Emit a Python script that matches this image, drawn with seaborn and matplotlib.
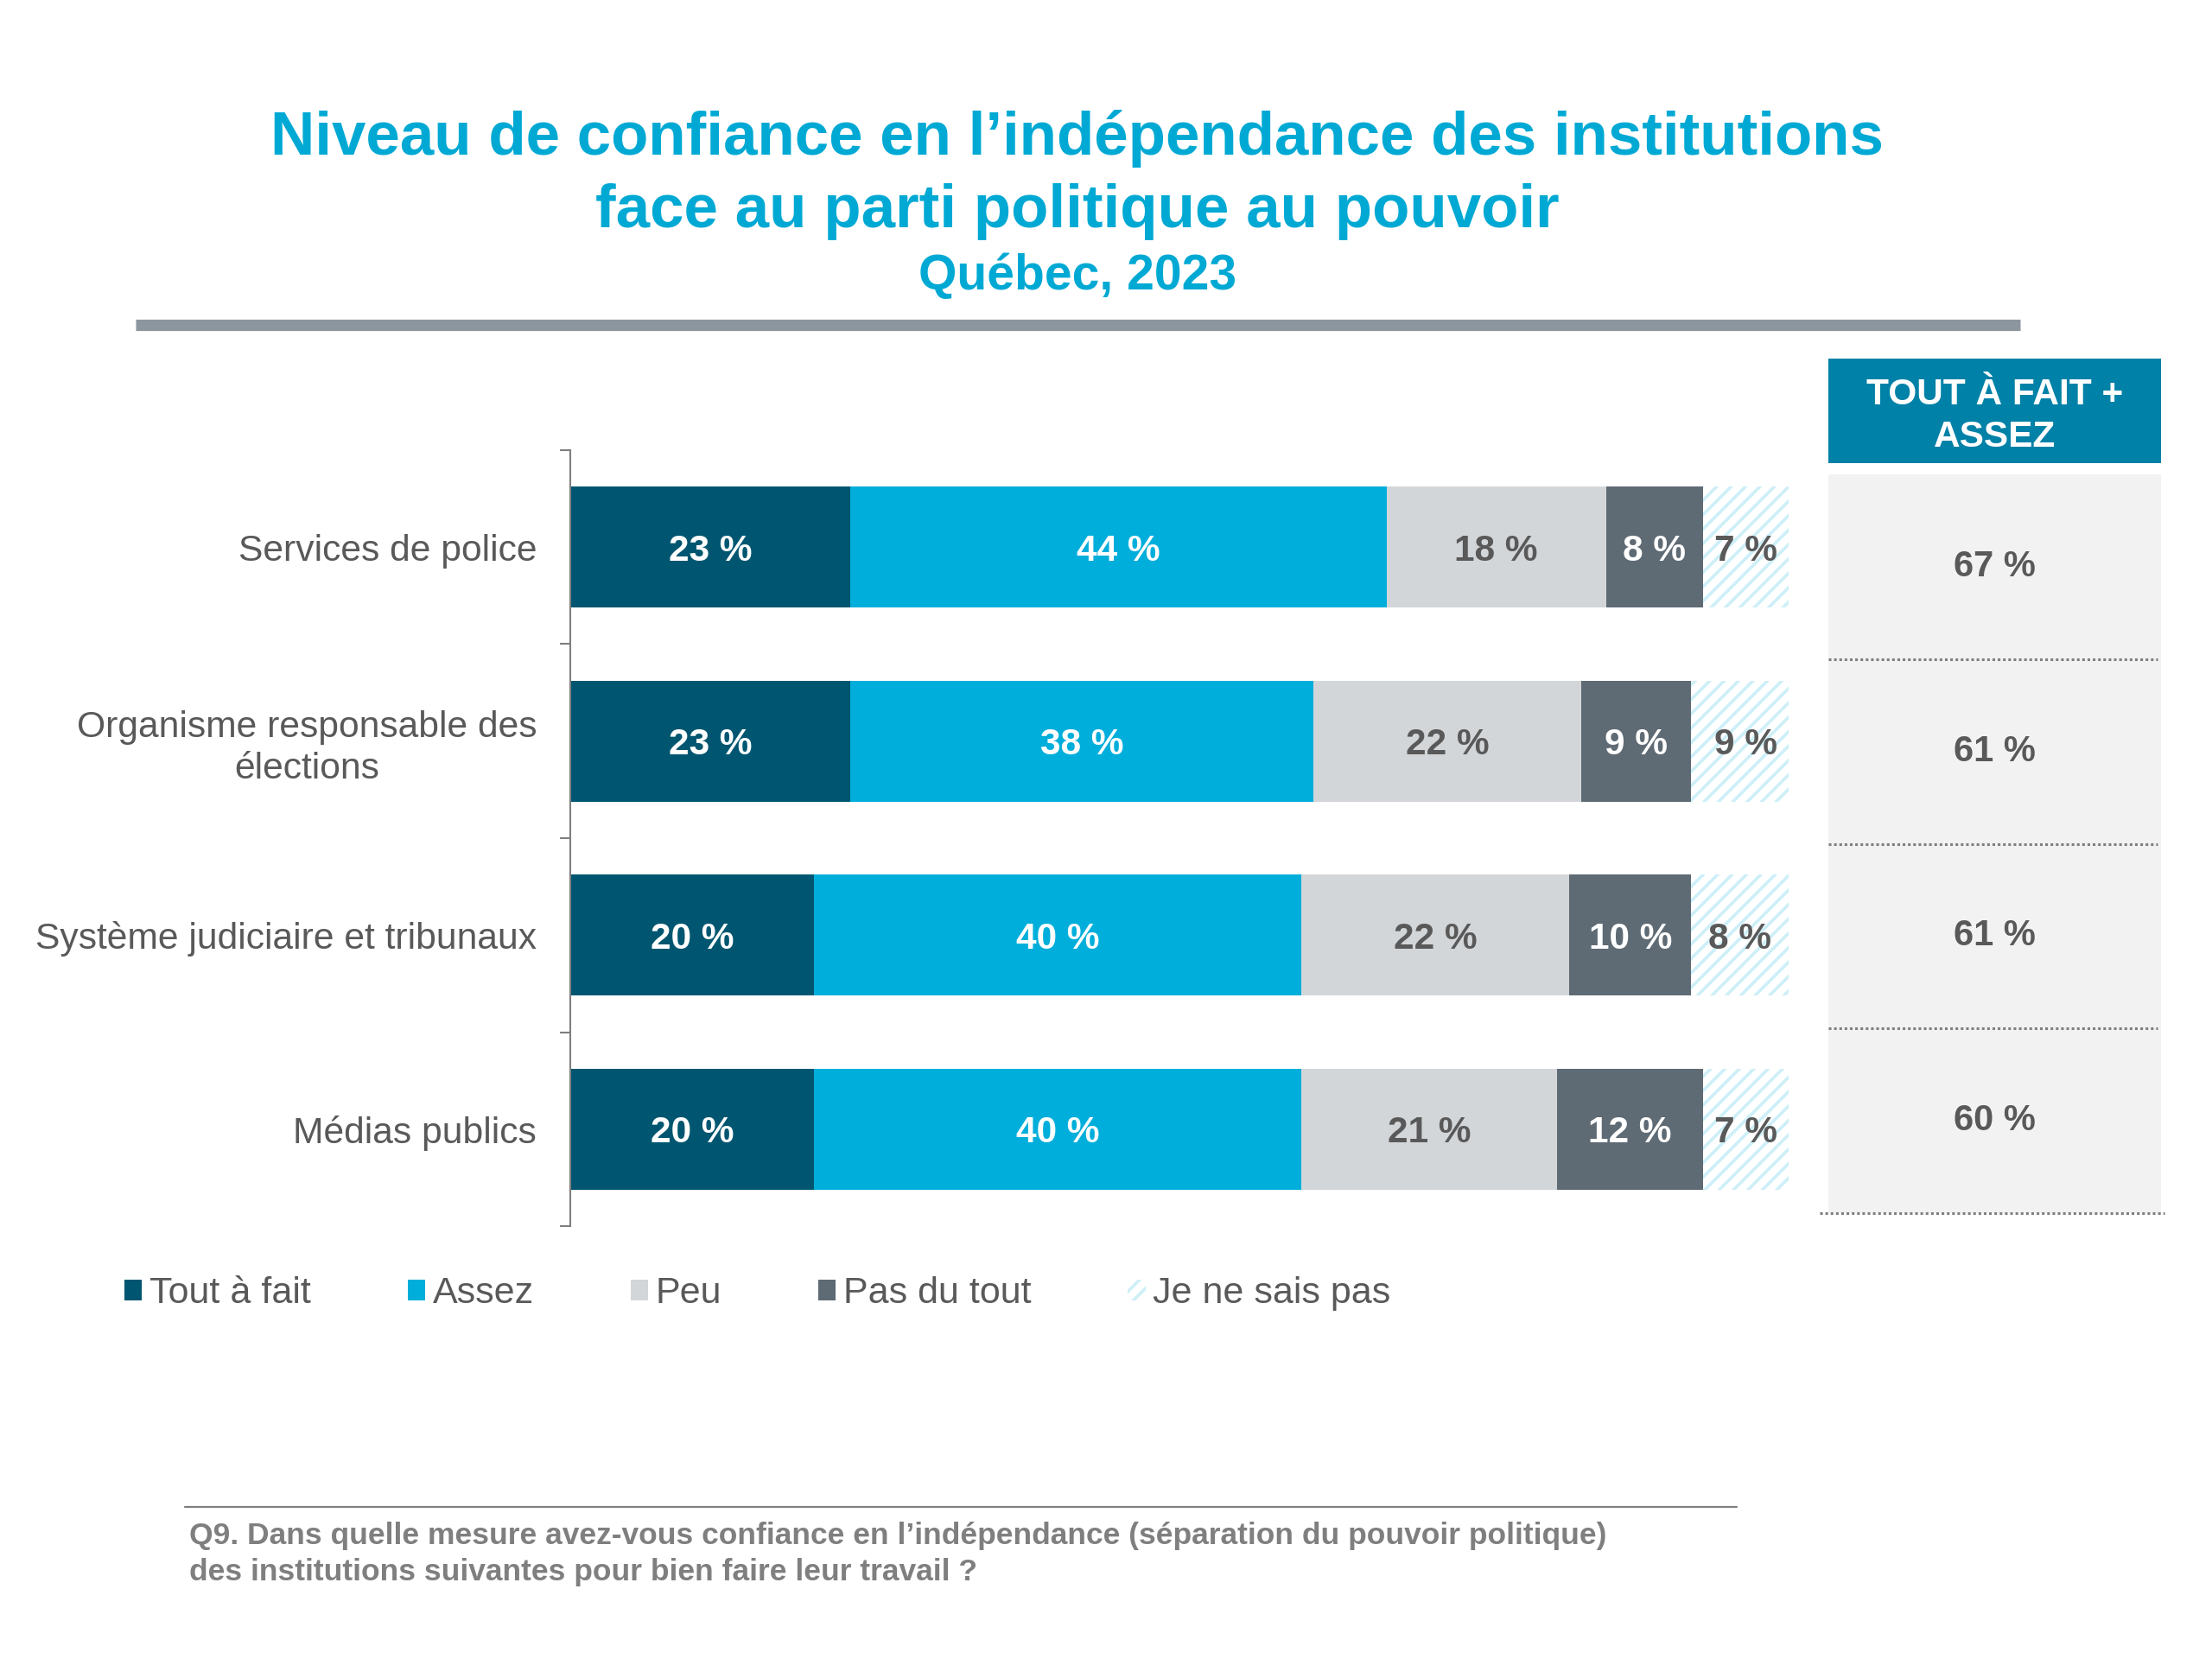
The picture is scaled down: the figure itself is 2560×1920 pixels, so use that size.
import numpy as np
import pandas as pd
import matplotlib
matplotlib.use("Agg")
import matplotlib.pyplot as plt
import seaborn as sns
from matplotlib.patches import Patch
from matplotlib.lines import Line2D

# ── Data ──────────────────────────────────────────────────────────────────────
institutions = ["Services de police",
                "Organisme responsable des\nélections",
                "Système judiciaire et tribunaux",
                "Médias publics"]
categories   = ["Tout à fait", "Assez", "Peu", "Pas du tout", "Je ne sais pas"]
tout_a_fait  = [23, 23, 20, 20]
assez        = [44, 38, 40, 40]
peu          = [18, 22, 22, 21]
pas_du_tout  = [8, 9, 10, 12]
ne_sais_pas  = [7, 9, 8, 7]
total_confiance = [67, 61, 61, 60]

colours       = ["#005670", "#00AEDB", "#D3D6D9", "#5E6A74", "#FFFFFF"]
label_colours = ["white", "white", "#595959", "white", "#595959"]
hatch_colour  = "#CDEFF8"
grey_txt      = "#595959"

df = pd.DataFrame({"institution": institutions,
                   "Tout à fait": tout_a_fait, "Assez": assez, "Peu": peu,
                   "Pas du tout": pas_du_tout, "Je ne sais pas": ne_sais_pas})
cum = df[categories].cumsum(axis=1)

# ── Style ─────────────────────────────────────────────────────────────────────
sns.set_theme(style="white")
plt.rcParams["font.family"] = ["Liberation Sans", "DejaVu Sans"]
plt.rcParams["hatch.linewidth"] = 2.6
plt.rcParams["hatch.color"] = hatch_colour

fig = plt.figure(figsize=(25.6, 19.2), dpi=100)

# ── Titles ────────────────────────────────────────────────────────────────────
title_col = "#00A9D4"
fig.text(0.487, 0.9165, "Niveau de confiance en l’indépendance des institutions",
         ha="center", va="center", fontsize=51, fontweight="bold", color=title_col)
fig.text(0.487, 0.8725, "face au parti politique au pouvoir",
         ha="center", va="center", fontsize=51, fontweight="bold", color=title_col)
fig.text(0.487, 0.8335, "Québec, 2023",
         ha="center", va="center", fontsize=41, fontweight="bold", color=title_col)
fig.add_artist(Line2D([157 / 2560, 2338 / 2560], [1 - 376 / 1920] * 2,
                      lw=9.5, color="#8C969F", solid_capstyle="butt"))

# ── Stacked bars ──────────────────────────────────────────────────────────────
ax = fig.add_axes([660 / 2560, 1 - 1419 / 1920, 1410 / 2560, 898 / 1920])
for i in reversed(range(len(categories))):
    sns.barplot(x=cum[categories[i]], y=df["institution"], orient="h",
                color=colours[i], saturation=1, width=0.625, linewidth=0,
                ax=ax)
# first container drawn = "Je ne sais pas" -> hatched
for p in ax.containers[0]:
    p.set_facecolor("white")
    p.set_edgecolor(hatch_colour)
    p.set_hatch("//")
    p.set_linewidth(0)

for r in range(len(institutions)):
    for i, cat in enumerate(categories):
        v = df.loc[r, cat]
        centre = cum.loc[r, cat] - v / 2
        ax.text(centre, r + 0.02, f"{v} %", ha="center", va="center",
                fontsize=30.5, fontweight="bold", color=label_colours[i])

ax.set_xlim(0, 100)
ax.set_ylim(3.5, -0.5)
ax.set_xticks([])
ax.set_xlabel("")
ax.set_ylabel("")
for s in ["top", "right", "bottom"]:
    ax.spines[s].set_visible(False)
ax.spines["left"].set_color("#7F7F7F")
ax.spines["left"].set_linewidth(1.5)
ax.set_yticks(range(len(institutions)))
ax.set_yticklabels(institutions, fontsize=30.7, color=grey_txt, linespacing=1.25)
ax.get_yticklabels()[1].set_multialignment("center")
ax.set_yticks([-0.5, 0.5, 1.5, 2.5, 3.5], minor=True)
ax.tick_params(axis="y", which="major", length=0, pad=28)
ax.tick_params(axis="y", which="minor", left=True, length=9, width=1.5,
               color="#7F7F7F", direction="out")

# ── Right panel: Tout à fait + Assez ──────────────────────────────────────────
hax = fig.add_axes([2116 / 2560, 1 - 536 / 1920, 385 / 2560, 121 / 1920])
hax.set_facecolor("#0081A7")
hax.set_xticks([]); hax.set_yticks([])
for s in hax.spines.values():
    s.set_visible(False)
hax.text(0.5, 0.45, "TOUT À FAIT +\nASSEZ", ha="center", va="center",
         fontsize=30.5, fontweight="bold", color="white", linespacing=1.27,
         transform=hax.transAxes)

pax = fig.add_axes([2116 / 2560, 1 - 1404 / 1920, 385 / 2560, 855 / 1920])
pax.set_facecolor("#F2F2F2")
pax.set_xlim(0, 1)
pax.set_ylim(3.5, -0.5)
pax.set_xticks([]); pax.set_yticks([])
for s in pax.spines.values():
    s.set_visible(False)
for r, v in enumerate(total_confiance):
    pax.text(0.5, r, f"{v} %", ha="center", va="center", fontsize=30,
             fontweight="bold", color=grey_txt)
    ext = (-0.025, 1.01) if r == len(total_confiance) - 1 else (0.0, 0.99)
    pax.axhline(r + 0.5, xmin=ext[0], xmax=ext[1], color="#7F7F7F",
                linestyle=(0, (1, 1)), lw=2.2, clip_on=False)

# ── Legend ────────────────────────────────────────────────────────────────────
handles = []
for i, cat in enumerate(categories):
    if i == 4:
        handles.append(Patch(facecolor="white", edgecolor=hatch_colour,
                             hatch="//", linewidth=0, label=cat))
    else:
        handles.append(Patch(facecolor=colours[i], linewidth=0, label=cat))
fig.legend(handles=handles, loc="center left",
           bbox_to_anchor=(144 / 2560, 1 - 1497 / 1920), ncol=5,
           frameon=False, fontsize=31, handlelength=0.47, handleheight=0.47,
           handletextpad=0.2, columnspacing=2.6, borderpad=0,
           borderaxespad=0, labelcolor=grey_txt)

# ── Footnote ──────────────────────────────────────────────────────────────────
fig.add_artist(Line2D([214 / 2560, 2010 / 2560], [1 - 1744 / 1920] * 2,
                      lw=1.6, color="#7F7F7F"))
fig.text(219 / 2560, 1 - 1778 / 1920,
         "Q9. Dans quelle mesure avez-vous confiance en l’indépendance "
         "(séparation du pouvoir politique)",
         ha="left", va="center", fontsize=25.5, fontweight="bold", color="#7F7F7F")
fig.text(219 / 2560, 1 - 1820 / 1920,
         "des institutions suivantes pour bien faire leur travail ?",
         ha="left", va="center", fontsize=25.5, fontweight="bold", color="#7F7F7F")

plt.savefig("out.png", dpi=100)
plt.close()
